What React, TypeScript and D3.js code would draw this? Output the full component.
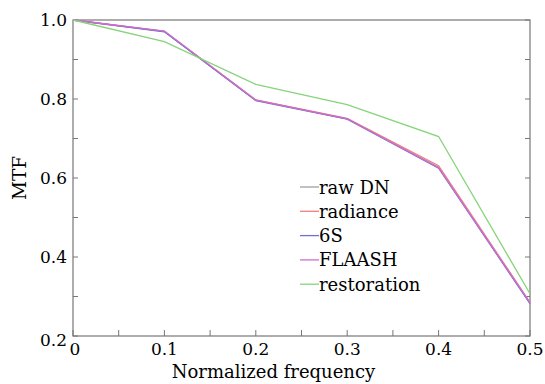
import React, { useEffect, useRef } from 'react';
import * as d3 from 'd3';

const freqs = [0, 0.1, 0.2, 0.3, 0.4, 0.5];
const rawDN = [1.0, 0.971, 0.797, 0.75, 0.627, 0.283];
const radiance = [1.0, 0.971, 0.798, 0.751, 0.631, 0.285];
const sixS = [1.0, 0.97, 0.796, 0.749, 0.625, 0.282];
const flaash = [1.0, 0.972, 0.797, 0.75, 0.626, 0.284];
const restoration = [1.0, 0.945, 0.837, 0.786, 0.705, 0.307];

const seriesNames = ['raw DN', 'radiance', '6S', 'FLAASH', 'restoration'];
const seriesColors = ['#a0a0a0', '#f47e7e', '#6f6fd6', '#cc6fcc', '#86d47a'];
const xTickLabels = ['0', '0.1', '0.2', '0.3', '0.4', '0.5'];
const yTickLabels = ['0.2', '0.4', '0.6', '0.8', '1.0'];

const App = () => {
  const svgRef = useRef<SVGSVGElement>(null);

  useEffect(() => {
    const svg = d3.select(svgRef.current);
    svg.selectAll('*').remove();

    const margin = { top: 20, right: 15, bottom: 48, left: 73 };
    const width = 545 - margin.left - margin.right;
    const height = 384 - margin.top - margin.bottom;
    const font = "'DejaVu Serif', serif";
    const axisColor = '#777';

    const g = svg.append('g').attr('transform', `translate(${margin.left},${margin.top})`);

    const x = d3.scaleLinear().domain([0, 0.5]).range([0, width]);
    const y = d3.scaleLinear().domain([0.2, 1.0]).range([height, 0]);

    // frame
    g.append('rect').attr('x', 0).attr('y', 0).attr('width', width).attr('height', height)
      .attr('fill', 'none').attr('stroke', axisColor).attr('stroke-width', 1.2);

    // ticks
    const xTicks = d3.range(0, 0.5001, 0.05);
    g.selectAll('.xtick').data(xTicks).join('line')
      .attr('x1', d => x(d)).attr('x2', d => x(d))
      .attr('y1', height).attr('y2', height - 6)
      .attr('stroke', axisColor).attr('stroke-width', 1);
    const yTicks = d3.range(0.2, 1.0001, 0.1);
    g.selectAll('.ytickl').data(yTicks).join('line')
      .attr('x1', 0).attr('x2', 5)
      .attr('y1', d => y(d)).attr('y2', d => y(d))
      .attr('stroke', axisColor).attr('stroke-width', 1);
    g.selectAll('.ytickr').data(yTicks).join('line')
      .attr('x1', width).attr('x2', width - 5)
      .attr('y1', d => y(d)).attr('y2', d => y(d))
      .attr('stroke', axisColor).attr('stroke-width', 1);

    // tick labels
    g.selectAll('.xlab').data(xTickLabels).join('text')
      .attr('x', d => x(+d) + (d === '0' ? 2 : 0))
      .attr('y', height + 19)
      .attr('text-anchor', 'middle')
      .attr('font-family', font).attr('font-size', 17).attr('fill', '#000')
      .text(d => d);
    g.selectAll('.ylab').data(yTickLabels).join('text')
      .attr('x', -6)
      .attr('y', d => y(+d) + 6 + (d === '0.2' ? 4 : 0))
      .attr('text-anchor', 'end')
      .attr('font-family', font).attr('font-size', 17).attr('fill', '#000')
      .text(d => d);

    // axis titles
    g.append('text')
      .attr('x', width / 2 - 28).attr('y', height + 42)
      .attr('text-anchor', 'middle')
      .attr('font-family', font).attr('font-size', 18).attr('fill', '#000')
      .text('Normalized frequency');
    g.append('text')
      .attr('transform', `translate(${-47},${height / 2}) rotate(-90)`)
      .attr('text-anchor', 'middle')
      .attr('font-family', font).attr('font-size', 18.5).attr('fill', '#000')
      .text('MTF');

    // lines
    const allSeries = [rawDN, radiance, sixS, flaash, restoration];
    const line = d3.line<number>()
      .x((_, i) => x(freqs[i]))
      .y(d => y(d));
    allSeries.forEach((s, i) => {
      g.append('path')
        .datum(s)
        .attr('fill', 'none')
        .attr('stroke', seriesColors[i])
        .attr('stroke-width', 1.3)
        .attr('d', line);
    });

    // legend
    const legend = g.append('g').attr('transform', `translate(${300 - margin.left},${187 - margin.top})`);
    seriesNames.forEach((name, i) => {
      const row = legend.append('g').attr('transform', `translate(0,${i * 24.3})`);
      row.append('line').attr('x1', 0).attr('x2', 19).attr('y1', 0).attr('y2', 0)
        .attr('stroke', seriesColors[i]).attr('stroke-width', 1.3);
      row.append('text').attr('x', 19).attr('y', 6.5)
        .attr('font-family', font).attr('font-size', 18).attr('fill', '#000')
        .text(name);
    });
  }, []);

  return (
    <svg ref={svgRef} width={545} height={384}
      style={{ position: 'absolute', left: 0, top: 0, background: '#fff' }} />
  );
};

export default App;
